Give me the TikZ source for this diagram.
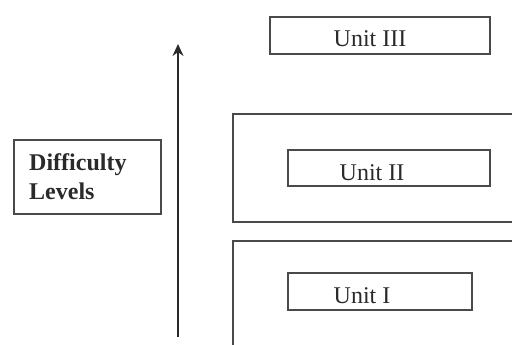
\documentclass[tikz,border=0pt]{standalone}
\usepackage{fontspec}
\setmainfont{Liberation Serif}
\usetikzlibrary{arrows.meta}
\definecolor{boxgray}{HTML}{4A4A4A}
\definecolor{txtgray}{HTML}{2A2A2A}
\begin{document}
\begin{tikzpicture}[x=1pt,y=-1pt,
  box/.style={draw=boxgray, line width=1.6pt, inner sep=0pt, anchor=north west},
  lbl/.style={font=\fontsize{24}{29}\selectfont, text=txtgray, inner sep=0pt, anchor=base},
  axis/.style={draw=txtgray, line width=1.6pt, -{Stealth[length=12pt,width=11pt]}}]
\useasboundingbox (0,0) rectangle (512,345);
\clip (0,0) rectangle (512,345);
% outer frames
\node[box, minimum width=300pt, minimum height=108pt] (f2) at (232,113) {};
\node[box, minimum width=300pt, minimum height=130pt] (f1) at (232,240) {};
% unit boxes
\node[box, minimum width=220pt, minimum height=37pt] (u3) at (269,16) {};
\node[box, minimum width=202pt, minimum height=36pt] (u2) at (287,149) {};
\node[box, minimum width=184pt, minimum height=37pt] (u1) at (287,272) {};
\node[lbl] (t3) at (370,47) {Unit III};
\node[lbl] (t2) at (372,180) {Unit II};
\node[lbl] (t1) at (362,303) {Unit I};
% difficulty box
\node[box, minimum width=147pt, minimum height=74pt] (d) at (13,139) {};
\node[font=\fontsize{24}{29}\selectfont\bfseries, text=txtgray, inner sep=0pt,
      align=left, anchor=west] (dt) at (29,177) {Difficulty\\Levels};
% arrow
\coordinate (abot) at (178,337);
\coordinate (atop) at (178,44);
\draw[axis] (abot) -- (atop);
\end{tikzpicture}
\end{document}
